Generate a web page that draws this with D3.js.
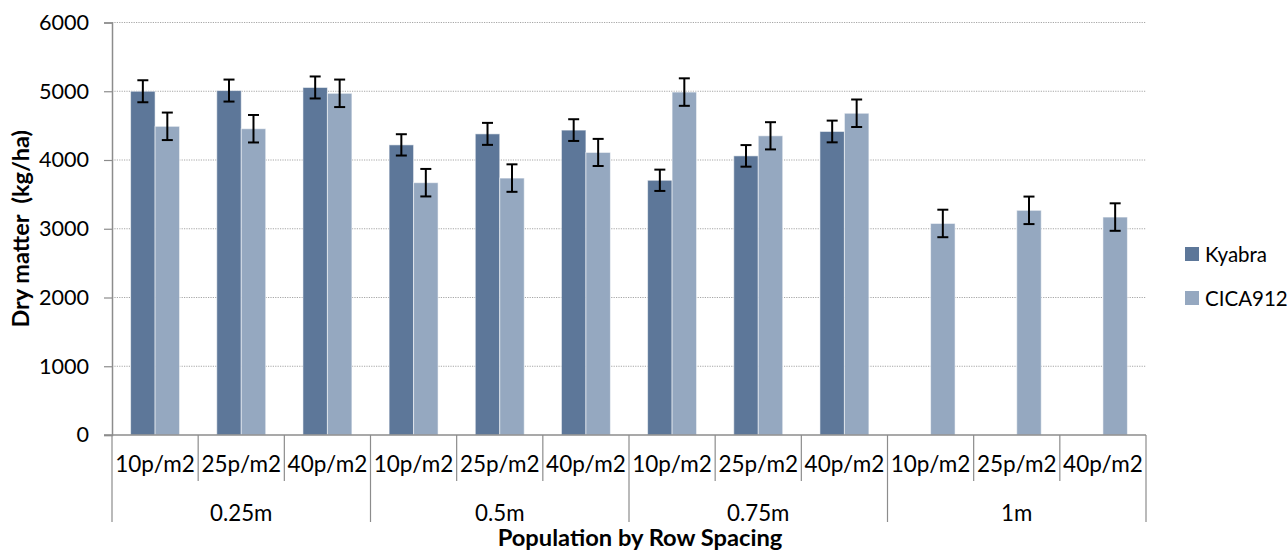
<!DOCTYPE html>
<html>
<head>
<meta charset="utf-8">
<script src="https://cdn.jsdelivr.net/npm/d3@7"></script>
<style>
  html, body { margin: 0; padding: 0; background: #ffffff; }
  svg { display: block; font-family: Lato, "Open Sans", sans-serif; }
</style>
</head>
<body>
<svg id="chart" width="1287" height="558"></svg>
<script>
// Row spacing groups and plant population sub-categories
const rowSpacings = ["0.25m", "0.5m", "0.75m", "1m"];
const populations = ["10p/m2", "25p/m2", "40p/m2"];
const seriesNames = ["Kyabra", "CICA912"];

// Dry matter (kg/ha), one value per population within each row spacing
const kyabraValues = [5000, 5010, 5055, 4220, 4380, 4435, 3705, 4060, 4415, null, null, null];
const kyabraErrors = [160, 160, 160, 155, 160, 158, 155, 157, 158, null, null, null];
const cicaValues = [4490, 4455, 4970, 3670, 3737, 4110, 4988, 4352, 4680, 3077, 3268, 3170];
const cicaErrors = [200, 200, 200, 200, 200, 197, 200, 198, 200, 200, 200, 200];

const yTicks = [0, 1000, 2000, 3000, 4000, 5000, 6000];
const colors = { "Kyabra": "#5d7799", "CICA912": "#95a8c0" };

const svg = d3.select("#chart");
const plotLeft = 112, plotRight = 1146, plotTop = 22.5, plotBottom = 435;

// Flatten into one row per (spacing, population) category
const cats = [];
rowSpacings.forEach((g, gi) => populations.forEach((p, pi) => {
  const i = gi * populations.length + pi;
  cats.push({
    id: g + "|" + p, group: g, pop: p,
    values: [
      { s: "Kyabra", v: kyabraValues[i], e: kyabraErrors[i] },
      { s: "CICA912", v: cicaValues[i], e: cicaErrors[i] }
    ]
  });
}));

const x = d3.scaleBand().domain(cats.map(d => d.id)).range([plotLeft, plotRight]).padding(0);
const xs = d3.scaleBand().domain(seriesNames).range([0, x.bandwidth()])
  .paddingInner(0).paddingOuter(0.76);
const y = d3.scaleLinear().domain([0, 6000]).range([plotBottom, plotTop]);

// Dotted horizontal gridlines
svg.append("g").selectAll("line").data(yTicks.filter(t => t > 0)).join("line")
  .attr("x1", plotLeft).attr("x2", plotRight)
  .attr("y1", d => y(d)).attr("y2", d => y(d))
  .attr("stroke", "#a6a6a6").attr("stroke-width", 1)
  .attr("stroke-dasharray", "1.2,1.2");

// Y axis
const yAxis = svg.append("g").attr("transform", `translate(${plotLeft},0)`)
  .call(d3.axisLeft(y).tickValues(yTicks).tickSize(8).tickPadding(15).tickFormat(d3.format("d")));
yAxis.select(".domain").attr("stroke", "#8c8c8c").attr("stroke-width", 1.5);
yAxis.selectAll(".tick line").attr("stroke", "#8c8c8c").attr("stroke-width", 1.2);
yAxis.selectAll(".tick text").attr("font-size", 21.6).attr("fill", "#000")
  .attr("font-family", "Lato, sans-serif");

// Bars
const catG = svg.append("g").selectAll("g").data(cats).join("g")
  .attr("transform", d => `translate(${x(d.id)},0)`);

catG.selectAll("rect").data(d => d.values.filter(v => v.v != null)).join("rect")
  .attr("x", d => xs(d.s))
  .attr("width", xs.bandwidth())
  .attr("y", d => y(d.v))
  .attr("height", d => y(0) - y(d.v))
  .attr("fill", d => colors[d.s])
  .attr("stroke", "rgba(255,255,255,0.55)")
  .attr("stroke-width", 1);

// Error bars
const eb = catG.selectAll("g.err").data(d => d.values.filter(v => v.v != null)).join("g")
  .attr("class", "err")
  .attr("transform", d => `translate(${xs(d.s) + xs.bandwidth() / 2},0)`);
eb.append("line").attr("x1", 0).attr("x2", 0)
  .attr("y1", d => y(d.v + d.e)).attr("y2", d => y(d.v - d.e));
eb.append("line").attr("x1", -5.5).attr("x2", 5.5)
  .attr("y1", d => y(d.v + d.e)).attr("y2", d => y(d.v + d.e));
eb.append("line").attr("x1", -5.5).attr("x2", 5.5)
  .attr("y1", d => y(d.v - d.e)).attr("y2", d => y(d.v - d.e));
eb.selectAll("line").attr("stroke", "#000").attr("stroke-width", 2);

// Category axis baseline
svg.append("line").attr("x1", plotLeft - 8).attr("x2", plotRight)
  .attr("y1", plotBottom).attr("y2", plotBottom)
  .attr("stroke", "#8c8c8c").attr("stroke-width", 1.5);

// Separators between populations (short) and between row spacings (long)
const bounds = d3.range(cats.length + 1).map(i => plotLeft + i * x.step());
svg.append("g").selectAll("line").data(bounds).join("line")
  .attr("x1", d => d).attr("x2", d => d)
  .attr("y1", plotBottom)
  .attr("y2", (d, i) => i % populations.length === 0 ? 522 : 481)
  .attr("stroke", "#8c8c8c").attr("stroke-width", 1.2);

// Population labels
svg.append("g").selectAll("text").data(cats).join("text")
  .attr("x", d => x(d.id) + x.bandwidth() / 2)
  .attr("y", 472)
  .attr("text-anchor", "middle")
  .attr("font-size", 22.5)
  .text(d => d.pop);

// Row spacing labels
const groupW = x.step() * populations.length;
svg.append("g").selectAll("text").data(rowSpacings).join("text")
  .attr("x", (d, i) => plotLeft + groupW * i + groupW / 2)
  .attr("y", 521)
  .attr("text-anchor", "middle")
  .attr("font-size", 22.3)
  .text(d => d);

// Axis titles
svg.append("text")
  .attr("x", 640).attr("y", 546)
  .attr("text-anchor", "middle")
  .attr("font-size", 23.7).attr("font-weight", "bold")
  .text("Population by Row Spacing");

svg.append("text")
  .attr("transform", `translate(29,${(plotTop + plotBottom) / 2}) rotate(-90)`)
  .attr("text-anchor", "middle")
  .attr("font-size", 23.5).attr("font-weight", "bold")
  .style("white-space", "pre")
  .text("Dry matter  (kg/ha)");

// Legend
const legend = svg.append("g").selectAll("g").data(seriesNames).join("g")
  .attr("transform", (d, i) => `translate(1185,${254 + i * 44})`);
legend.append("rect").attr("x", 0).attr("y", -7).attr("width", 14).attr("height", 14)
  .attr("fill", d => colors[d]);
legend.append("text").attr("x", 20).attr("y", 7.5)
  .attr("font-size", 20.5)
  .text(d => d);
</script>
</body>
</html>
